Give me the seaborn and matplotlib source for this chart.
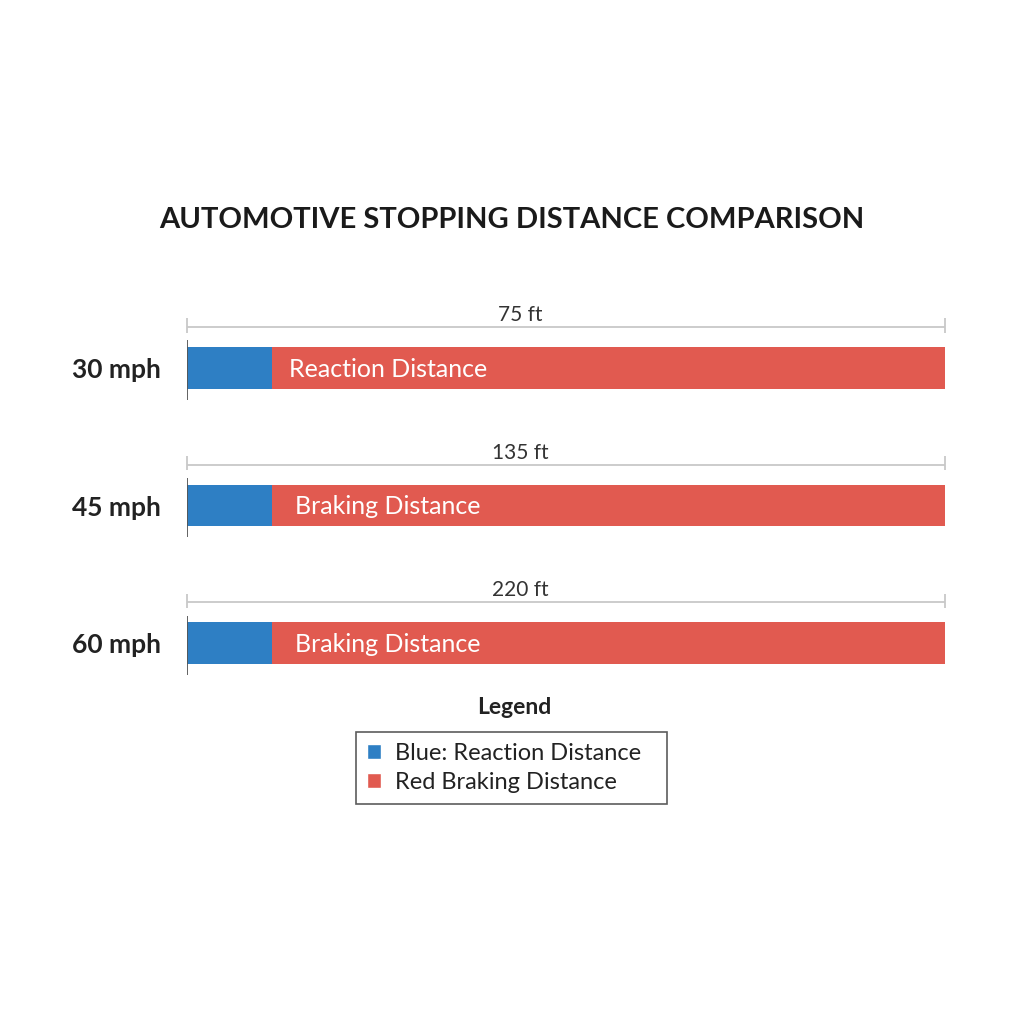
import pandas as pd
import matplotlib.pyplot as plt
import seaborn as sns
from matplotlib.patches import Patch

# data
speeds = ['30 mph', '45 mph', '60 mph']
total_labels = ['75 ft', '135 ft', '220 ft']
reaction_pct = [11.2, 11.2, 11.2]   # blue share of each (normalized) bar
braking_pct = [88.8, 88.8, 88.8]
inner_labels = ['Reaction Distance', 'Braking Distance', 'Braking Distance']

BLUE = '#2E7FC4'
RED = '#E15A50'

df = pd.DataFrame({'speed': speeds,
                   'reaction': reaction_pct,
                   'braking': braking_pct})
df['total'] = df['reaction'] + df['braking']

sns.set_theme(style='white')
plt.rcParams['font.family'] = ['Lato', 'DejaVu Sans']

fig = plt.figure(figsize=(10.24, 10.24), dpi=100)
ax = fig.add_axes([0.1826, 0.3049, 0.7402, 0.4163])

# red full bar, blue reaction part on top
sns.barplot(data=df, x='total', y='speed', color=RED, width=0.305,
            orient='h', ax=ax, saturation=1, linewidth=0)
sns.barplot(data=df, x='reaction', y='speed', color=BLUE, width=0.305,
            orient='h', ax=ax, saturation=1, linewidth=0)

ax.set_xlim(0, 100)
ax.set_ylim(2.5, -0.6)
for s in ax.spines.values():
    s.set_visible(False)
ax.set_xticks([])
ax.set_xlabel('')
ax.set_ylabel('')
ax.tick_params(axis='y', length=0, pad=19)
for t in ax.get_yticklabels():
    t.set_fontsize(19)
    t.set_fontweight('bold')
    t.set_color('#222222')

for i, row in df.iterrows():
    # dimension line above bar
    ax.hlines(i - 0.298, 0, row['total'], color='#c8c8c8', lw=1.3, clip_on=False)
    ax.vlines([0, row['total']], i - 0.36, i - 0.255, color='#c8c8c8', lw=1.3, clip_on=False)
    ax.text(44, i - 0.385, total_labels[i], ha='center', va='center',
            fontsize=15, color='#333333')
    # short axis mark at bar start
    ax.vlines(0, i - 0.2, i + 0.23, color='#555555', lw=1.3, zorder=5)
    ax.text(row['reaction'] + 2.3 + (0.8 if i else 0), i + 0.01, inner_labels[i],
            ha='left', va='center', fontsize=18, color='white')

fig.text(0.5, 0.785, 'AUTOMOTIVE STOPPING DISTANCE COMPARISON', ha='center',
         va='center', fontsize=21, fontweight='bold', color='#1a1a1a')

fig.text(0.502, 0.309, 'Legend', ha='center', va='center', fontsize=16.5,
         fontweight='bold', color='#222222')
handles = [Patch(facecolor=BLUE, label='Blue: Reaction Distance'),
           Patch(facecolor=RED, label='Red Braking Distance')]
leg = fig.legend(handles=handles, loc='upper left',
                 bbox_to_anchor=(356 / 1024, 1 - 732 / 1024, 311 / 1024, 0),
                 mode='expand', borderaxespad=0,
                 fontsize=17, frameon=True, fancybox=False, handlelength=0.6,
                 handleheight=0.6, handletextpad=0.6, labelspacing=0.35,
                 borderpad=0.45)
leg.get_frame().set_edgecolor('#333333')
leg.get_frame().set_linewidth(1.2)
for t in leg.get_texts():
    t.set_color('#222222')

fig.savefig('out.png', dpi=100, facecolor='white')
